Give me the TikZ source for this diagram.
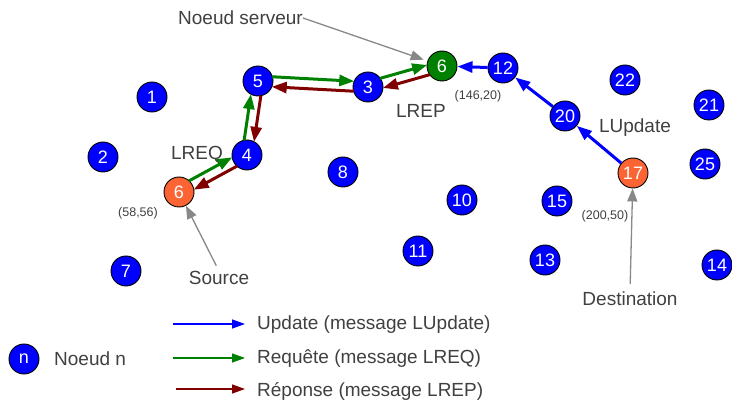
\documentclass[tikz,border=0pt]{standalone}
\usepackage{fontspec}
\setmainfont{Liberation Sans}
\usetikzlibrary{arrows.meta,calc}
\definecolor{nblue}{RGB}{0,0,255}
\definecolor{ngreen}{RGB}{0,128,0}
\definecolor{nred}{RGB}{128,0,0}
\definecolor{norange}{RGB}{252,100,52}
\definecolor{txt}{RGB}{64,64,64}
\definecolor{gline}{RGB}{136,136,136}
\begin{document}
\begin{tikzpicture}[x=1pt,y=-1pt,
 nd/.style={circle,draw=black,line width=0.9pt,minimum size=30pt,inner sep=0pt,text=white,font=\fontsize{18}{18}\selectfont},
 bn/.style={nd,fill=nblue},
 on/.style={nd,fill=norange},
 gn/.style={nd,fill=ngreen},
 lbl/.style={text=txt,font=\fontsize{19}{19}\selectfont,inner sep=0pt},
 sml/.style={text=txt,font=\fontsize{12.5}{12.5}\selectfont,inner sep=0pt},
 req/.style={draw=ngreen,line width=3pt,-{Triangle[length=15pt,width=11pt]},shorten <=14pt,shorten >=14pt},
 rep/.style={draw=nred,line width=3pt,-{Triangle[length=15pt,width=11pt]},shorten <=14pt,shorten >=14pt},
 upd/.style={draw=nblue,line width=3pt,-{Triangle[length=15pt,width=11pt]}},
 pointer/.style={draw=gline,line width=1.3pt,-{Triangle[length=13pt,width=10pt]}},
 leg/.style={line width=1.4pt,-{Triangle[length=13pt,width=9pt]}}
]
\useasboundingbox (0,0) rectangle (732,401);

% nodes
\node[bn] (n1) at (152,97) {1};
\node[bn] (n2) at (103,157) {2};
\node[bn] (n7) at (126,271) {7};
\node[on] (s6) at (179,192) {6};
\node[bn] (n4) at (247,155) {4};
\node[bn] (n5) at (258,81) {5};
\node[bn] (n3) at (368,87) {3};
\node[gn] (g6) at (442,66) {6};
\node[bn] (n12) at (503,68) {12};
\node[bn] (n20) at (565,116) {20};
\node[on] (n17) at (633,173) {17};
\node[bn] (n22) at (625,80) {22};
\node[bn] (n21) at (709,105) {21};
\node[bn] (n25) at (705,164) {25};
\node[bn] (n8) at (343,172) {8};
\node[bn] (n10) at (462,200) {10};
\node[bn] (n15) at (557,201) {15};
\node[bn] (n11) at (418,251) {11};
\node[bn] (n13) at (545,260) {13};
\node[bn] (n14) at (717,265) {14};

% labels
\node[lbl,anchor=west] (serv) at (178,18) {Noeud serveur};
\node[lbl] (lreq) at (197,155) {LREQ};
\node[lbl] (lrep) at (421,111) {LREP};
\node[lbl] (lupd) at (635,128) {LUpdate};
\node[sml] (c1) at (138,213) {(58,56)};
\node[sml] (c2) at (478,96) {(146,20)};
\node[sml] (c3) at (605,216) {(200,50)};
\node[lbl] (srcl) at (219,278) {Source};
\node[lbl] (dstl) at (630,299) {Destination};

% request path (green)
\draw[req] ($(s6)!5pt!90:(n4)$) -- ($(n4)!5pt!-90:(s6)$);
\draw[req] ($(n4)!5pt!90:(n5)$) -- ($(n5)!5pt!-90:(n4)$);
\draw[req] ($(n5)!5pt!90:(n3)$) -- ($(n3)!5pt!-90:(n5)$);
\draw[req] ($(n3)!5pt!90:(g6)$) -- ($(g6)!5pt!-90:(n3)$);
% reply path (dark red)
\draw[rep] ($(g6)!5pt!90:(n3)$) -- ($(n3)!5pt!-90:(g6)$);
\draw[rep] ($(n3)!5pt!90:(n5)$) -- ($(n5)!5pt!-90:(n3)$);
\draw[rep] ($(n5)!5pt!90:(n4)$) -- ($(n4)!5pt!-90:(n5)$);
\draw[rep] ($(n4)!5pt!90:(s6)$) -- ($(s6)!5pt!-90:(n4)$);
% update path (blue)
\draw[upd] (n17) -- (n20);
\draw[upd] (n20) -- (n12);
\draw[upd] (n12) -- (g6);

% pointers
\draw[pointer,shorten >=4pt] (serv.east) -- (g6);
\draw[pointer,shorten <=6pt] (srcl.north) -- (s6);
\draw[pointer,shorten <=8pt] (dstl.north) -- (n17);

% legend
\node[bn] (legn) at (24,359) {n};
\node[lbl,anchor=west] (legnt) at (54,359) {Noeud n};
\coordinate (la1) at (173,324); \coordinate (la2) at (245,324);
\coordinate (lb1) at (173,358); \coordinate (lb2) at (245,358);
\coordinate (lc1) at (176,389); \coordinate (lc2) at (245,389);
\draw[leg,draw=nblue] (la1) -- (la2);
\draw[leg,draw=ngreen] (lb1) -- (lb2);
\draw[leg,draw=nred] (lc1) -- (lc2);
\node[lbl,anchor=west] (lt1) at (257,325) {Update (message LUpdate)};
\node[lbl,anchor=west] (lt2) at (257,359) {Requête (message LREQ)};
\node[lbl,anchor=west] (lt3) at (257,391) {Réponse (message LREP)};
\end{tikzpicture}
\end{document}
